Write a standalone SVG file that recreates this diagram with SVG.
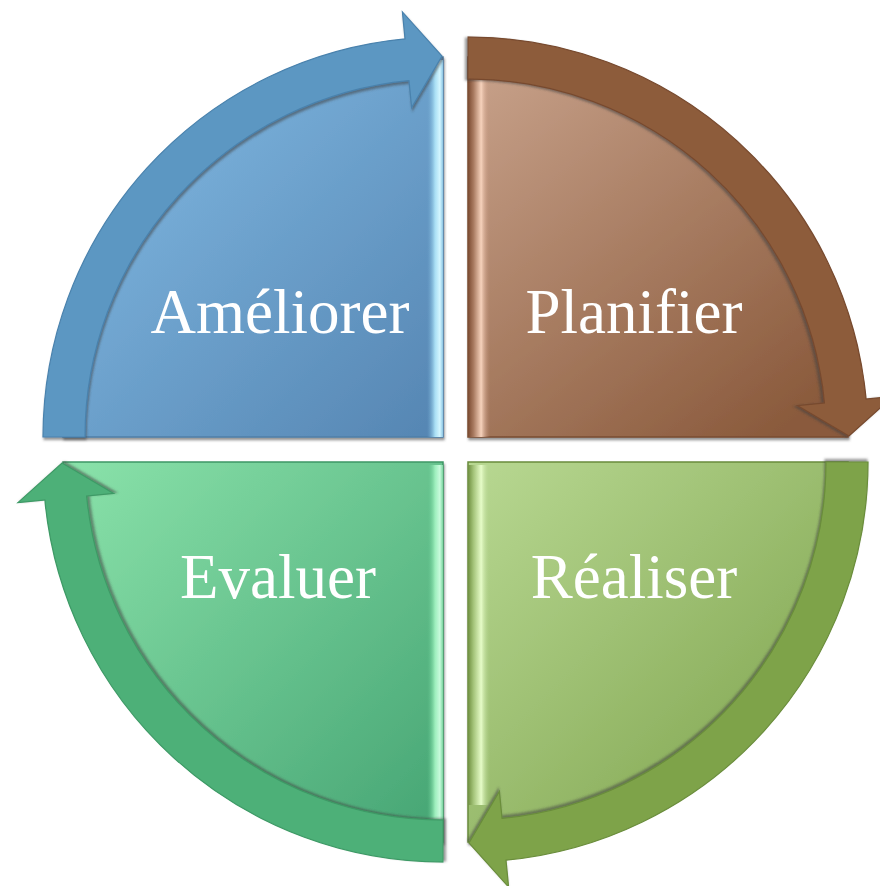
<svg xmlns="http://www.w3.org/2000/svg" width="880" height="886" viewBox="0 0 880 886">
  <style>
    .lbl { font-family: "Liberation Serif", "Times New Roman", serif; font-size: 63px; fill: #ffffff; text-anchor: middle; }
    .pie { stroke-width: 1.5; }
    .arr { stroke-width: 1.2; }
  </style>
  <defs>
    <filter id="sh" x="-10%" y="-10%" width="120%" height="120%">
      <feDropShadow dx="1" dy="2.5" stdDeviation="1" flood-color="#404040" flood-opacity="0.55"/>
    </filter>
    <path id="arrowShape" d="M -400 0 A 400 400 0 0 1 -38 -398.2 L -40.6 -425.1 L -1 -381 L -31.4 -329.5 L -34 -356.4 A 358 358 0 0 0 -358 0 Z"/>
    <linearGradient id="gBlue" x1="0" y1="0" x2="1" y2="1">
      <stop offset="0" stop-color="#84bde6"/>
      <stop offset="1" stop-color="#5585b2"/>
    </linearGradient>
    <linearGradient id="gBrown" x1="0" y1="0" x2="0.8" y2="1">
      <stop offset="0" stop-color="#c9a38c"/>
      <stop offset="1" stop-color="#8a5a3c"/>
    </linearGradient>
    <linearGradient id="gOlive" x1="0" y1="0" x2="1" y2="1">
      <stop offset="0" stop-color="#b8d892"/>
      <stop offset="1" stop-color="#7a9f48"/>
    </linearGradient>
    <linearGradient id="gGreen" x1="0" y1="0" x2="1" y2="1">
      <stop offset="0" stop-color="#8ae2aa"/>
      <stop offset="1" stop-color="#45a473"/>
    </linearGradient>
    <linearGradient id="hBlue" x1="0" y1="0" x2="1" y2="0">
      <stop offset="0" stop-color="#6fa7d0" stop-opacity="0"/>
      <stop offset="0.5" stop-color="#a8def4"/>
      <stop offset="0.8" stop-color="#d4f6ff"/>
      <stop offset="1" stop-color="#8cc6e4"/>
    </linearGradient>
    <linearGradient id="hBrown" x1="0" y1="0" x2="1" y2="0">
      <stop offset="0" stop-color="#7a4a30"/>
      <stop offset="0.25" stop-color="#a87a60"/>
      <stop offset="0.6" stop-color="#f6d2bc"/>
      <stop offset="1" stop-color="#c09078" stop-opacity="0"/>
    </linearGradient>
    <linearGradient id="hOlive" x1="0" y1="0" x2="1" y2="0">
      <stop offset="0" stop-color="#6f8f40"/>
      <stop offset="0.25" stop-color="#a4c47a"/>
      <stop offset="0.6" stop-color="#e6fcc8"/>
      <stop offset="1" stop-color="#b0d08a" stop-opacity="0"/>
    </linearGradient>
    <linearGradient id="hGreen" x1="0" y1="0" x2="1" y2="0">
      <stop offset="0" stop-color="#5cc08a" stop-opacity="0"/>
      <stop offset="0.5" stop-color="#9ceebc"/>
      <stop offset="0.8" stop-color="#c8fadc"/>
      <stop offset="1" stop-color="#7ad6a0"/>
    </linearGradient>
  </defs>

  <g id="ameliorer">
    <path class="pie" d="M443 437 L63 437 A380 380 0 0 1 443 57 Z" fill="url(#gBlue)" stroke="#4f7fa8" filter="url(#sh)"/>
    <rect x="427" y="60" width="16" height="377" fill="url(#hBlue)"/>
    <text class="lbl" x="280" y="333">Améliorer</text>
  </g>

  <g id="planifier">
    <path class="pie" d="M468 437 L468 57 A380 380 0 0 1 848 437 Z" fill="url(#gBrown)" stroke="#7a4c30" filter="url(#sh)"/>
    <rect x="468" y="78" width="22" height="359" fill="url(#hBrown)"/>
    <text class="lbl" x="634" y="333">Planifier</text>
  </g>

  <g id="realiser">
    <path class="pie" d="M468 462 L848 462 A380 380 0 0 1 468 842 Z" fill="url(#gOlive)" stroke="#6a8c3c" filter="url(#sh)"/>
    <rect x="468" y="465" width="22" height="340" fill="url(#hOlive)"/>
    <text class="lbl" x="634" y="598">Réaliser</text>
  </g>

  <g id="evaluer">
    <path class="pie" d="M443 462 L443 842 A380 380 0 0 1 63 462 Z" fill="url(#gGreen)" stroke="#3e9666" filter="url(#sh)"/>
    <rect x="427" y="465" width="16" height="360" fill="url(#hGreen)"/>
    <text class="lbl" x="278" y="598">Evaluer</text>
  </g>

  <g id="connectors">
    <use href="#arrowShape" class="arr" transform="translate(443,437)" fill="#5b97c2" stroke="#4a82ad" filter="url(#sh)"/>
    <use href="#arrowShape" class="arr" transform="translate(468,437) rotate(90)" fill="#8d5b3b" stroke="#774a2e" filter="url(#sh)"/>
    <use href="#arrowShape" class="arr" transform="translate(468,462) rotate(180)" fill="#7ea34a" stroke="#6a8d3b" filter="url(#sh)"/>
    <use href="#arrowShape" class="arr" transform="translate(443,462) rotate(270)" fill="#4db078" stroke="#3e9a66" filter="url(#sh)"/>
  </g>
</svg>
